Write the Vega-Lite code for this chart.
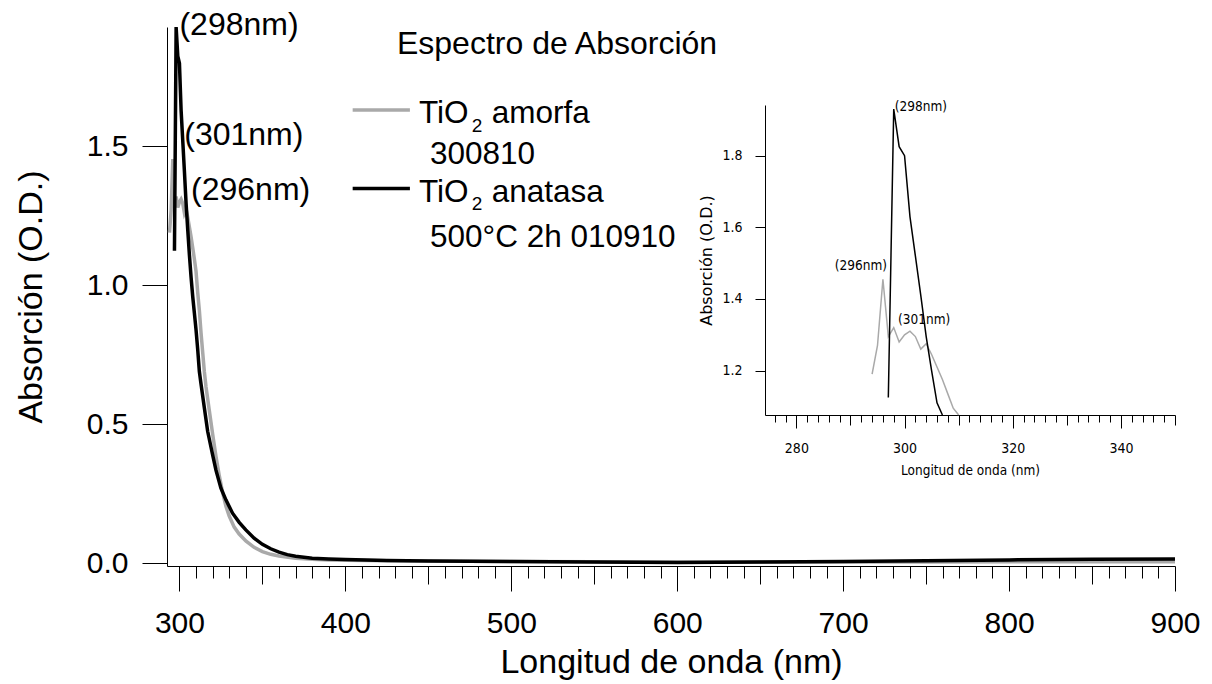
{
  "$schema": "https://vega.github.io/schema/vega-lite/v6.json",
  "width": 1008,
  "height": 539,
  "autosize": "none",
  "padding": {"left": 167, "top": 27, "right": 37, "bottom": 118},
  "background": "white",
  "config": {
    "view": {"stroke": null},
    "font": "Liberation Sans",
    "axis": {"grid": false, "domainColor": "black", "tickColor": "black", "labelColor": "black", "titleColor": "black", "titleFontWeight": "normal", "labelFont": "Liberation Sans", "titleFont": "Liberation Sans", "labelOverlap": false, "labelFlush": false, "labelBound": false}
  },
  "datasets": {
    "amorfa": [
      {"x": 294, "y": 1.19}, {"x": 295, "y": 1.27}, {"x": 296, "y": 1.455}, {"x": 297, "y": 1.295},
      {"x": 298, "y": 1.32}, {"x": 299, "y": 1.28}, {"x": 300, "y": 1.30}, {"x": 301, "y": 1.31},
      {"x": 302, "y": 1.295}, {"x": 303, "y": 1.26}, {"x": 304, "y": 1.275}, {"x": 305, "y": 1.245},
      {"x": 306, "y": 1.21}, {"x": 307, "y": 1.175}, {"x": 308, "y": 1.135}, {"x": 309, "y": 1.095},
      {"x": 310, "y": 1.05}, {"x": 311, "y": 0.975}, {"x": 312, "y": 0.91}, {"x": 313, "y": 0.83},
      {"x": 314, "y": 0.76}, {"x": 315, "y": 0.69}, {"x": 316, "y": 0.635}, {"x": 318, "y": 0.55},
      {"x": 320, "y": 0.465}, {"x": 322, "y": 0.385}, {"x": 324, "y": 0.315}, {"x": 326, "y": 0.255},
      {"x": 328, "y": 0.205}, {"x": 330, "y": 0.17}, {"x": 333, "y": 0.13}, {"x": 336, "y": 0.105},
      {"x": 340, "y": 0.08}, {"x": 345, "y": 0.057}, {"x": 350, "y": 0.042}, {"x": 355, "y": 0.032},
      {"x": 360, "y": 0.026}, {"x": 370, "y": 0.018}, {"x": 380, "y": 0.014}, {"x": 390, "y": 0.012},
      {"x": 400, "y": 0.011}, {"x": 425, "y": 0.009}, {"x": 450, "y": 0.008}, {"x": 500, "y": 0.006},
      {"x": 550, "y": 0.005}, {"x": 600, "y": 0.004}, {"x": 650, "y": 0.004}, {"x": 700, "y": 0.004},
      {"x": 750, "y": 0.004}, {"x": 800, "y": 0.005}, {"x": 850, "y": 0.005}, {"x": 900, "y": 0.005}
    ],
    "anatasa": [
      {"x": 297, "y": 1.125}, {"x": 298, "y": 1.93}, {"x": 299, "y": 1.825}, {"x": 300, "y": 1.80},
      {"x": 301, "y": 1.63}, {"x": 302, "y": 1.52}, {"x": 303, "y": 1.41}, {"x": 304, "y": 1.295},
      {"x": 305, "y": 1.2}, {"x": 306, "y": 1.11}, {"x": 307, "y": 1.03}, {"x": 308, "y": 0.96},
      {"x": 309, "y": 0.9}, {"x": 310, "y": 0.84}, {"x": 311, "y": 0.77}, {"x": 312, "y": 0.69},
      {"x": 313, "y": 0.645}, {"x": 315, "y": 0.56}, {"x": 317, "y": 0.475}, {"x": 320, "y": 0.39},
      {"x": 322, "y": 0.335}, {"x": 325, "y": 0.27}, {"x": 328, "y": 0.228}, {"x": 332, "y": 0.18},
      {"x": 336, "y": 0.147}, {"x": 340, "y": 0.12}, {"x": 345, "y": 0.09}, {"x": 350, "y": 0.068},
      {"x": 355, "y": 0.052}, {"x": 360, "y": 0.04}, {"x": 365, "y": 0.031}, {"x": 370, "y": 0.025},
      {"x": 380, "y": 0.018}, {"x": 390, "y": 0.015}, {"x": 400, "y": 0.013}, {"x": 425, "y": 0.01},
      {"x": 450, "y": 0.008}, {"x": 500, "y": 0.006}, {"x": 550, "y": 0.004}, {"x": 600, "y": 0.003},
      {"x": 650, "y": 0.004}, {"x": 700, "y": 0.006}, {"x": 750, "y": 0.009}, {"x": 800, "y": 0.012},
      {"x": 850, "y": 0.014}, {"x": 900, "y": 0.015}
    ],
    "legendLines": [
      {"x": 404.4, "x2": 438.9, "y": 1.631, "s": "amorfa"},
      {"x": 404.4, "x2": 438.9, "y": 1.349, "s": "anatasa"}
    ],
    "legendText": [
      {"x": 444.4, "y": 1.583, "t": "TiO"},
      {"x": 488.2, "y": 1.583, "t": "amorfa"},
      {"x": 451.0, "y": 1.437, "t": "300810"},
      {"x": 444.4, "y": 1.301, "t": "TiO"},
      {"x": 488.2, "y": 1.301, "t": "anatasa"},
      {"x": 451.0, "y": 1.139, "t": "500°C 2h 010910"}
    ],
    "subText": [
      {"x": 476.1, "y": 1.553, "t": "2"},
      {"x": 476.1, "y": 1.271, "t": "2"}
    ],
    "annotText": [
      {"x": 300.0, "y": 1.901, "t": "(298nm)"},
      {"x": 302.9, "y": 1.505, "t": "(301nm)"},
      {"x": 307.0, "y": 1.307, "t": "(296nm)"},
      {"x": 431.1, "y": 1.833, "t": "Espectro de Absorción"}
    ],
    "insetText": [
      {"x": 298.2, "y": 1.926, "t": "(298nm)"},
      {"x": 287.1, "y": 1.481, "t": "(296nm)"},
      {"x": 298.8, "y": 1.3295, "t": "(301nm)"}
    ]
  },
  "layer": [
    {
      "layer": [
        {
          "data": {"name": "amorfa"},
          "mark": {"type": "line", "color": "#a9a9a9", "strokeWidth": 3.5},
          "encoding": {
            "x": {
              "field": "x", "type": "quantitative",
              "scale": {"domain": [292.5, 900], "nice": false, "zero": false},
              "axis": {
                "title": "Longitud de onda (nm)",
                "values": [300,310,320,330,340,350,360,370,380,390,400,410,420,430,440,450,460,470,480,490,500,510,520,530,540,550,560,570,580,590,600,610,620,630,640,650,660,670,680,690,700,710,720,730,740,750,760,770,780,790,800,810,820,830,840,850,860,870,880,890,900],
                "tickCount": 1000,
                "format": "d",
                "labelOverlap": false,
                "labelExpr": "datum.value % 100 === 0 ? datum.label : ''",
                "tickSize": {"condition": [{"test": "datum.value % 100 === 0", "value": 25}, {"test": "datum.value % 50 === 0", "value": 18}], "value": 12},
                "labelFontSize": 30,
                "titleFontSize": 34,
                "labelPadding": 17,
                "titlePadding": 7
              }
            },
            "y": {
              "field": "y", "type": "quantitative",
              "scale": {"domain": [-0.01, 1.93], "nice": false, "zero": false},
              "axis": {
                "title": "Absorción (O.D.)",
                "values": [0, 0.5, 1, 1.5],
                "tickCount": 1000,
                "format": ".1f",
                "tickSize": 25,
                "labelFontSize": 30,
                "titleFontSize": 34,
                "labelPadding": 14,
                "titlePadding": 38
              }
            }
          }
        },
        {
          "data": {"name": "anatasa"},
          "mark": {"type": "line", "color": "#000000", "strokeWidth": 3.5},
          "encoding": {
            "x": {"field": "x", "type": "quantitative"},
            "y": {"field": "y", "type": "quantitative"}
          }
        },
        {
          "data": {"name": "legendLines"},
          "mark": {"type": "rule", "strokeWidth": 3.5},
          "encoding": {
            "x": {"field": "x", "type": "quantitative"},
            "x2": {"field": "x2"},
            "y": {"field": "y", "type": "quantitative"},
            "color": {"field": "s", "type": "nominal", "scale": {"domain": ["amorfa", "anatasa"], "range": ["#a9a9a9", "#000000"]}, "legend": null}
          }
        },
        {
          "data": {"name": "legendText"},
          "mark": {"type": "text", "align": "left", "baseline": "alphabetic", "fontSize": 31.5, "font": "Liberation Sans", "color": "black"},
          "encoding": {
            "x": {"field": "x", "type": "quantitative"},
            "y": {"field": "y", "type": "quantitative"},
            "text": {"field": "t"}
          }
        },
        {
          "data": {"name": "subText"},
          "mark": {"type": "text", "align": "left", "baseline": "alphabetic", "fontSize": 19, "font": "Liberation Sans", "color": "black"},
          "encoding": {
            "x": {"field": "x", "type": "quantitative"},
            "y": {"field": "y", "type": "quantitative"},
            "text": {"field": "t"}
          }
        },
        {
          "data": {"name": "annotText"},
          "mark": {"type": "text", "align": "left", "baseline": "alphabetic", "fontSize": 32, "font": "Liberation Sans", "color": "black"},
          "encoding": {
            "x": {"field": "x", "type": "quantitative"},
            "y": {"field": "y", "type": "quantitative"},
            "text": {"field": "t"}
          }
        }
      ]
    },
    {
      "layer": [
        {
          "data": {"name": "amorfa"},
          "transform": [{"filter": "datum.x <= 310"}],
          "mark": {"type": "line", "color": "#a9a9a9", "strokeWidth": 1.5},
          "encoding": {
            "x": {
              "field": "x", "type": "quantitative",
              "scale": {"domain": [274.2, 350], "range": [598, 1008], "nice": false, "zero": false},
              "axis": {
                "orient": "bottom",
                "offset": -151,
                "title": "Longitud de onda (nm)",
                "values": [276,278,280,282,284,286,288,290,292,294,296,298,300,302,304,306,308,310,312,314,316,318,320,322,324,326,328,330,332,334,336,338,340,342,344,346,348,350],
                "tickCount": 1000,
                "format": "d",
                "labelOverlap": false,
                "labelExpr": "datum.value % 20 === 0 ? datum.label : ''",
                "tickSize": {"condition": [{"test": "datum.value % 20 === 0", "value": 13}, {"test": "datum.value % 10 === 0", "value": 10}], "value": 7},
                "labelFont": "Liberation Sans Narrow, DejaVu Sans Condensed, Liberation Sans",
                "labelFontSize": 14,
                "titleFont": "Liberation Sans Narrow, DejaVu Sans Condensed, Liberation Sans",
                "titleFontSize": 13.5,
                "labelPadding": 13,
                "titlePadding": 8
              }
            },
            "y": {
              "field": "y", "type": "quantitative",
              "scale": {"domain": [1.076, 1.9415], "range": [388, 78], "nice": false, "zero": false, "clamp": true},
              "axis": {
                "orient": "left",
                "offset": -598,
                "title": "Absorción (O.D.)",
                "values": [1.2, 1.4, 1.6, 1.8],
                "tickCount": 1000,
                "format": ".1f",
                "tickSize": 10,
                "labelFont": "Liberation Sans Narrow, DejaVu Sans Condensed, Liberation Sans",
                "labelFontSize": 14,
                "titleFont": "DejaVu Sans",
                "titleFontSize": 16,
                "labelPadding": 13,
                "titlePadding": 7
              }
            }
          }
        },
        {
          "data": {"name": "anatasa"},
          "transform": [{"filter": "datum.x <= 307"}],
          "mark": {"type": "line", "color": "#000000", "strokeWidth": 1.5},
          "encoding": {
            "x": {"field": "x", "type": "quantitative"},
            "y": {"field": "y", "type": "quantitative"}
          }
        },
        {
          "data": {"name": "insetText"},
          "mark": {"type": "text", "align": "left", "baseline": "alphabetic", "fontSize": 13.5, "font": "Liberation Sans Narrow, DejaVu Sans Condensed, Liberation Sans", "color": "black"},
          "encoding": {
            "x": {"field": "x", "type": "quantitative"},
            "y": {"field": "y", "type": "quantitative"},
            "text": {"field": "t"}
          }
        }
      ]
    }
  ],
  "resolve": {
    "scale": {"x": "independent", "y": "independent"},
    "axis": {"x": "independent", "y": "independent"}
  }
}
